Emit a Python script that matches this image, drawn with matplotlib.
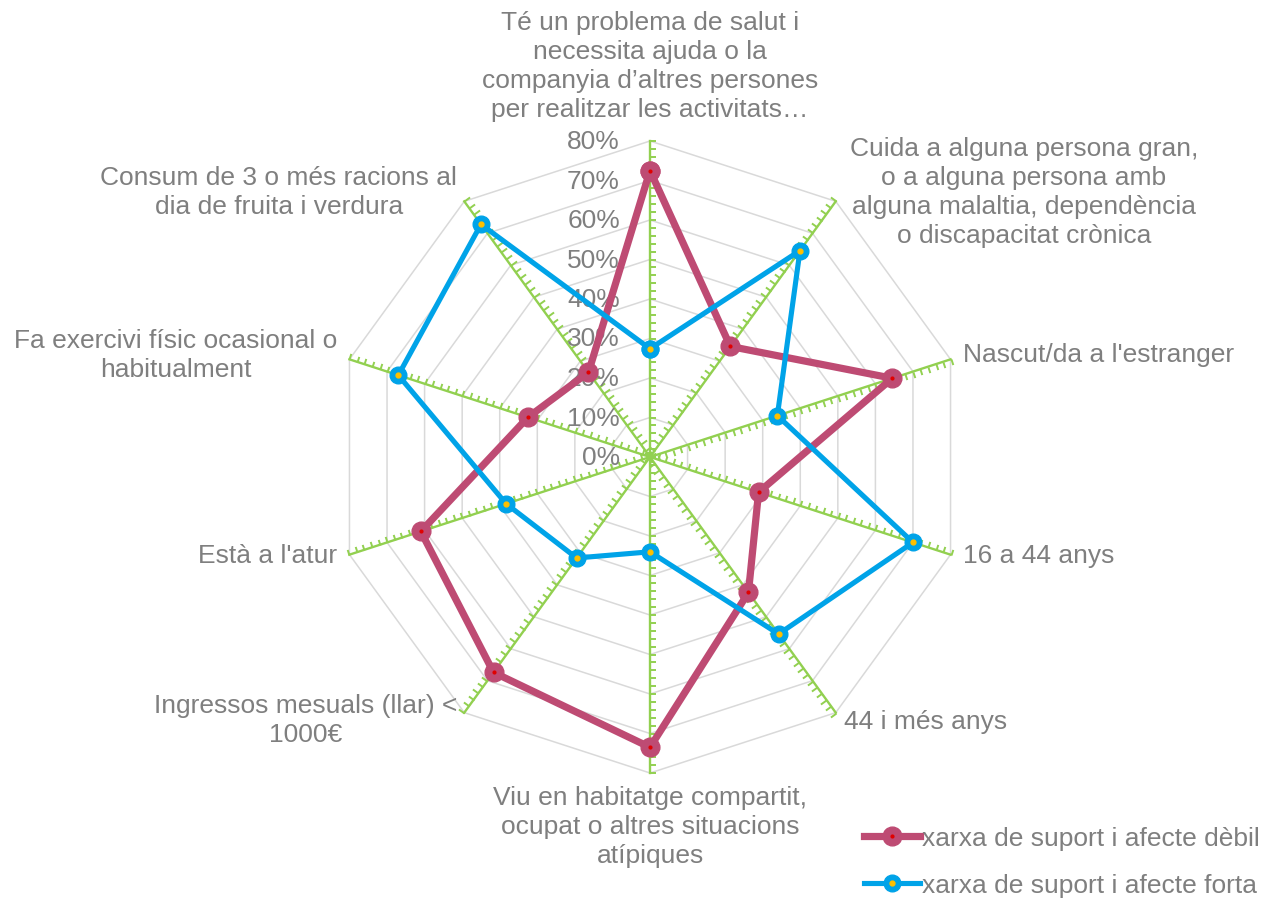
import numpy as np
import matplotlib
matplotlib.use("Agg")
import matplotlib.pyplot as plt
from matplotlib.path import Path
from matplotlib.markers import MarkerStyle

plt.rcParams['font.family'] = ['Liberation Sans', 'DejaVu Sans']

categories = [
    "Té un problema de salut i\nnecessita ajuda o la\ncompanyia d’altres persones\nper realitzar les activitats…",
    "Cuida a alguna persona gran,\no a alguna persona amb\nalguna malaltia, dependència\no discapacitat crònica",
    "Nascut/da a l'estranger",
    "16 a 44 anys",
    "44 i més anys",
    "Viu en habitatge compartit,\nocupat o altres situacions\natípiques",
    "Ingressos mesuals (llar) <\n1000€",
    "Està a l'atur",
    "Fa exercivi físic ocasional o\nhabitualment",
    "Consum de 3 o més racions al\ndia de fruita i verdura",
]
series_names = ["xarxa de suport i afecte dèbil", "xarxa de suport i afecte forta"]
weak = [72.5, 34.6, 64.5, 28.9, 42.4, 73.5, 67.4, 61.0, 32.5, 26.5]
strong = [27.4, 64.6, 33.9, 70.0, 55.4, 24.0, 31.6, 38.3, 67.0, 72.8]
ring_labels = ["0%", "10%", "20%", "30%", "40%", "50%", "60%", "70%", "80%"]

TXT = '#7F7F7F'
GRID = '#D9D9D9'
GREEN = '#92D050'
RED = '#BE4B73'
BLUE = '#00A3E8'
FS = 19

W, H = 1268, 904
fig = plt.figure(figsize=(W / 100, H / 100), dpi=100)
cx, cy, R = 650, 458, 316
ax = fig.add_axes([(cx - R) / W, (H - cy - R) / H, 2 * R / W, 2 * R / H], projection='polar')
ax.set_theta_zero_location('N')
ax.set_theta_direction(-1)
ax.set_ylim(0, 0.8)
ax.axis('off')

n = len(categories)
theta = 2 * np.pi * np.arange(n) / n
theta_c = np.append(theta, theta[0])

# rings
for k in range(1, 9):
    ax.plot(theta_c, [k / 10] * (n + 1), color=GRID, lw=1.1, zorder=1, clip_on=False)

# spokes with tick marks
sides = [1, -1, 1, -1, 1, -1, 1, 1, 1, 1]  # 1 = clockwise side
tick_r = np.arange(0, 0.8001, 0.02)
for i, t in enumerate(theta):
    ax.plot([t, t], [0, 0.8], color=GREEN, lw=1.7, zorder=2, clip_on=False)
    d = np.array([np.cos(t), -np.sin(t)]) * sides[i]
    mk = MarkerStyle(Path([(0, 0), (d[0], d[1])], [Path.MOVETO, Path.LINETO]))
    ax.plot([t] * len(tick_r), tick_r, linestyle='none', marker=mk, markersize=8,
            markeredgecolor=GREEN, markeredgewidth=1.4, zorder=2, clip_on=False)

# ring labels
for k, lab in enumerate(ring_labels):
    ax.annotate(lab, xy=(0, k / 10), xytext=(-30, 0), textcoords='offset pixels',
                ha='right', va='center', fontsize=FS, color=TXT, annotation_clip=False)

# series
w = np.array(weak) / 100
s = np.array(strong) / 100
l1, = ax.plot(theta_c, np.append(w, w[0]), color=RED, lw=5.2, marker='o', markersize=13.5,
              markerfacecolor=RED, markeredgecolor=RED, zorder=4, clip_on=False,
              solid_joinstyle='round')
d1, = ax.plot(theta, w, linestyle='none', marker='o', markersize=2, color='#E00000',
              zorder=5, clip_on=False)
l2, = ax.plot(theta_c, np.append(s, s[0]), color=BLUE, lw=3.7, marker='o', markersize=12,
              markerfacecolor=BLUE, markeredgecolor=BLUE, zorder=6, clip_on=False,
              solid_joinstyle='round')
d2, = ax.plot(theta, s, linestyle='none', marker='o', markersize=3.5, color='#FFC000',
              zorder=7, clip_on=False)

# category labels: (offset px, ha, va)
lab_pos = [
    ((0, 20), 'center', 'bottom'),
    ((14, 10), 'left', 'center'),
    ((12, 5), 'left', 'center'),
    ((12, 0), 'left', 'center'),
    ((8, -8), 'left', 'center'),
    ((0, -12), 'center', 'top'),
    ((-7, -7), 'right', 'center'),
    ((-12, 0), 'right', 'center'),
    ((-12, 5), 'right', 'center'),
    ((-7, 10), 'right', 'center'),
]
for i, lab in enumerate(categories):
    off, ha, va = lab_pos[i]
    ax.annotate(lab, xy=(theta[i], 0.8), xytext=off, textcoords='offset pixels',
                ha=ha, va=va, multialignment='center', fontsize=FS, color=TXT,
                linespacing=1.27, annotation_clip=False)

leg = fig.legend([(l1, d1), (l2, d2)], series_names, loc='upper left',
                 bbox_to_anchor=(864 / W, 1 - 827 / H), frameon=False, fontsize=FS,
                 handlelength=2.12, handletextpad=0.08, labelspacing=0.87,
                 borderpad=0, borderaxespad=0)
for t in leg.get_texts():
    t.set_color(TXT)

fig.savefig('out.png', dpi=100)
